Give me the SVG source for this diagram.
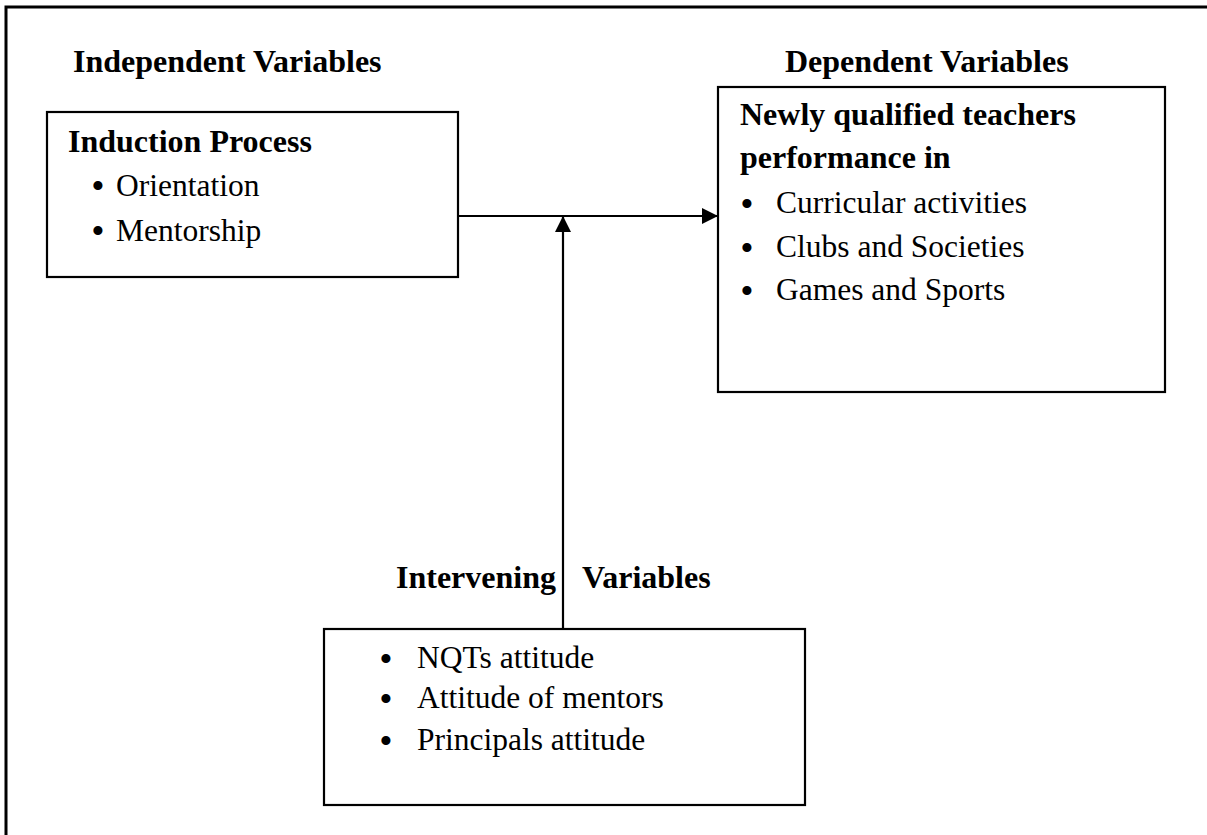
<svg xmlns="http://www.w3.org/2000/svg" width="1207" height="835" viewBox="0 0 1207 835">
<style>
text{font-family:"Liberation Serif","Times New Roman",serif;fill:#000}
.h{font-weight:bold;font-size:32px}
.t{font-size:31.5px}
.b{font-size:38px;text-anchor:middle}
.box{fill:#fff;stroke:#000;stroke-width:2.2}
.con{fill:none;stroke:#000;stroke-width:2.2}
</style>
<defs>
<marker id="arr" viewBox="0 0 16 16" refX="16" refY="8" markerWidth="16" markerHeight="16" markerUnits="userSpaceOnUse" orient="auto">
<path d="M0,0 L16,8 L0,16 Z" fill="#000"/>
</marker>
</defs>
<rect width="1207" height="835" fill="#fff"/>
<path d="M6,835 V7 H1207" fill="none" stroke="#000" stroke-width="3"/>
<text class="h" x="73" y="72">Independent Variables</text>
<text class="h" x="785" y="72">Dependent Variables</text>
<text class="h" x="396" y="588">Intervening</text>
<text class="h" x="582" y="588">Variables</text>
<g id="induction">
<rect class="box" x="47" y="112" width="411" height="165"/>
<text class="h" x="68" y="152">Induction Process</text>
<text class="b" x="98" y="199">•</text>
<text class="t" x="116" y="196">Orientation</text>
<text class="b" x="98" y="244">•</text>
<text class="t" x="116" y="241">Mentorship</text>
</g>
<g id="dependent">
<rect class="box" x="718" y="87" width="447" height="305"/>
<text class="h" x="740" y="125">Newly qualified teachers</text>
<text class="h" x="740" y="168">performance in</text>
<text class="b" x="747" y="217">•</text>
<text class="t" x="776" y="213">Curricular activities</text>
<text class="b" x="747" y="261">•</text>
<text class="t" x="776" y="257">Clubs and Societies</text>
<text class="b" x="747" y="304">•</text>
<text class="t" x="776" y="300">Games and Sports</text>
</g>
<g id="intervening">
<rect class="box" x="324" y="629" width="481" height="176"/>
<text class="b" x="386" y="672">•</text>
<text class="t" x="417" y="668">NQTs attitude</text>
<text class="b" x="386" y="712">•</text>
<text class="t" x="417" y="708">Attitude of mentors</text>
<text class="b" x="386" y="754">•</text>
<text class="t" x="417" y="750">Principals attitude</text>
</g>
<g id="connectors">
<line class="con" x1="458" y1="216" x2="718" y2="216" marker-end="url(#arr)"/>
<line class="con" x1="563" y1="629" x2="563" y2="216" marker-end="url(#arr)"/>
</g>
</svg>
